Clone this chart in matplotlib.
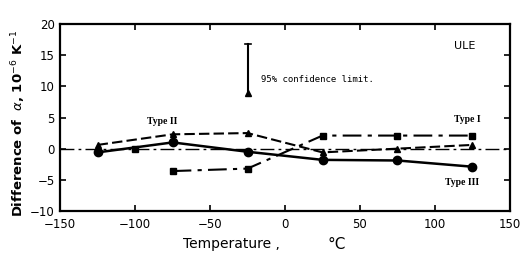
import matplotlib
matplotlib.use('Agg')
import matplotlib.pyplot as plt
import numpy as np

temps = [-125, -75, -25, 25, 75, 125]
type1_t = [-75, -25, 25, 75, 125]
type1 = [-3.6, -3.2, 2.1, 2.1, 2.1]      # squares, dash-dot
type2 = [0.6, 2.3, 2.5, -0.6, 0.0, 0.6]  # triangles, dashed
type3 = [-0.6, 1.0, -0.5, -1.8, -1.9, -2.9]  # circles, solid
xticks = [-150, -100, -50, 0, 50, 100, 150]
yticks = [-10, -5, 0, 5, 10, 15, 20]

fig = plt.figure(figsize=(5.23, 2.56), dpi=100)
ax = fig.add_axes([0.115, 0.176, 0.86, 0.73])

ax.plot([-150, 150], [0, 0], color='black', lw=1.0, dashes=(10, 3, 2, 3))
ax.plot([-100], [0], 's', color='black', ms=4)

ax.plot(type1_t, type1, color='black', lw=1.5, marker='s', ms=5,
        dashes=(9, 3, 2, 3))
ax.plot(temps, type2, color='black', lw=1.5, marker='^', ms=5,
        dashes=(5, 2))
ax.plot(temps, type3, color='black', lw=1.8, marker='o', ms=6)

# confidence bar
ax.plot([-25, -25], [8.7, 16.8], color='black', lw=1.5)
ax.plot([-27, -23], [16.8, 16.8], color='black', lw=1.2)
ax.plot([-25], [8.9], '^', color='black', ms=4)
ax.text(-16, 11.1, '95% confidence limit.', fontsize=6.5, va='center',
        family='DejaVu Sans Mono')

ax.text(113, 16.5, 'ULE', fontsize=8, va='center', family='DejaVu Sans')
ax.text(-92, 4.4, 'Type II', fontsize=7, va='center', family='Liberation Serif',
        fontweight='bold')
ax.text(113, 4.7, 'Type I', fontsize=7, va='center', family='Liberation Serif',
        fontweight='bold')
ax.text(107, -5.5, 'Type III', fontsize=7, va='center', family='Liberation Serif',
        fontweight='bold')

ax.set_xlim(-150, 150)
ax.set_ylim(-10, 20)
ax.set_xticks(xticks)
ax.set_yticks(yticks)
ax.tick_params(direction='in', top=True, right=True, labelsize=8.5, length=4, width=1.2)
ax.tick_params(axis='x', pad=5)
ax.tick_params(axis='y', pad=4)
for s in ax.spines.values():
    s.set_linewidth(1.6)

fig.text(0.35, 0.045, 'Temperature ,', fontsize=10, ha='left', va='center')
fig.text(0.627, 0.045, '°C', fontsize=11, ha='left', va='center')
fig.text(0.035, 0.52, r'Difference of  $\alpha$, 10$^{-6}$ K$^{-1}$', fontsize=9.5,
         fontweight='bold', rotation=90, ha='center', va='center')

fig.savefig('out.png', dpi=100)
